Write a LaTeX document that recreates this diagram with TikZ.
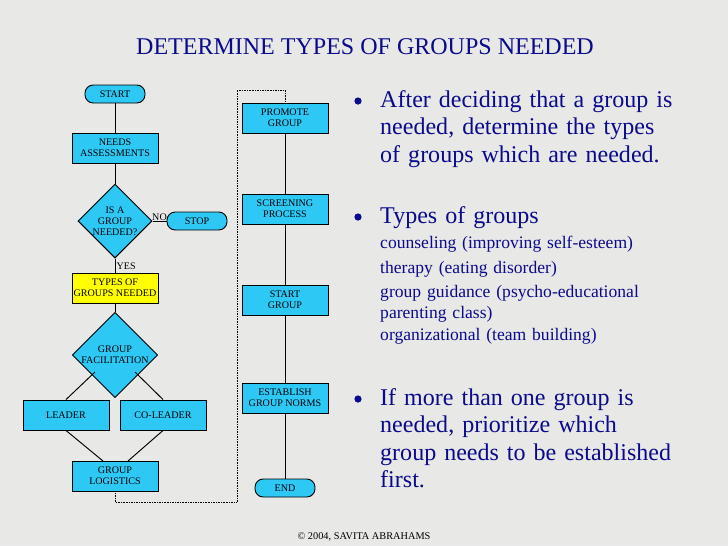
\documentclass[tikz,border=0pt]{standalone}
\usepackage{fontspec}
\setmainfont{Liberation Serif}
\usetikzlibrary{shapes.geometric}
\definecolor{boxblue}{RGB}{46,200,245}
\definecolor{boxyellow}{RGB}{255,255,0}
\definecolor{navy}{RGB}{10,10,140}
\definecolor{bg}{RGB}{232,232,230}
\tikzset{
    procbox/.style={draw, thick, fill=boxblue, minimum width=2.58cm, minimum height=0.9cm, align=center, font=\fontsize{8.6}{9.6}\selectfont, inner sep=1pt},
    termbox/.style={draw, thick, fill=boxblue, rounded corners=7pt, minimum width=1.8cm, minimum height=0.54cm, font=\fontsize{8.6}{9.6}\selectfont, inner sep=1pt},
    decbox/.style={draw, thick, fill=boxblue, diamond, align=center, font=\fontsize{8.6}{9.6}\selectfont, inner sep=0pt},
    flow/.style={draw, thick},
    bul/.style={anchor=north west, text=navy, align=left, text width=8.9cm, font=\fontsize{20.5}{23.5}\selectfont\raggedright, inner sep=0pt},
    sub/.style={anchor=north west, text=navy, align=left, text width=8.9cm, font=\fontsize{15}{18}\selectfont\raggedright, inner sep=0pt}
}
\begin{document}
\begin{tikzpicture}[x=0.03cm, y=-0.03cm]
    \fill[bg] (0,0) rectangle (728,546);

    \node[text=navy, font=\fontsize{20.5}{24}\selectfont] (title) at (365,47) {DETERMINE TYPES OF GROUPS NEEDED};

    % left column
    \node[termbox] (start) at (115,94) {START};
    \node[procbox] (needs) at (115,148) {NEEDS\\ASSESSMENTS};
    \node[decbox, minimum width=2.16cm, minimum height=1.98cm] (isgroup) at (115,221) {IS A\\GROUP\\NEEDED?};
    \node[termbox] (stop) at (197,221) {STOP};
    \node[procbox, fill=boxyellow] (types) at (115,288) {TYPES OF\\GROUPS NEEDED};
    \node[decbox, minimum width=2.52cm, minimum height=1.95cm] (facil) at (115,355) {GROUP\\FACILITATION};
    \node[procbox] (leader) at (66,415) {LEADER};
    \node[procbox] (coleader) at (163,415) {CO-LEADER};
    \node[procbox] (logist) at (115,476) {GROUP\\LOGISTICS};

    % right column
    \node[procbox] (promote) at (285,118) {PROMOTE\\GROUP};
    \node[procbox] (screen) at (285,209) {SCREENING\\PROCESS};
    \node[procbox] (startgrp) at (285,300) {START\\GROUP};
    \node[procbox] (norms) at (285,398) {ESTABLISH\\GROUP NORMS};
    \node[termbox] (end) at (285,488) {END};

    \draw[flow] (start) -- (needs);
    \draw[flow] (needs) -- (isgroup);
    \draw[flow] (isgroup) -- node[above, font=\fontsize{8.6}{9}\selectfont, inner sep=0pt] {NO} (stop);
    \draw[flow] (isgroup) -- node[pos=0.55, right, font=\fontsize{8.6}{9}\selectfont, inner sep=1pt] {YES} (types);
    \draw[flow] (types) -- (facil);
    \draw[flow] (95,372) -- (leader.north);
    \draw[flow] (135,372) -- (coleader.north);
    \draw[flow] (leader.south) -- (103,461);
    \draw[flow] (coleader.south) -- (128,461);
    \draw[flow] (promote) -- (screen);
    \draw[flow] (screen) -- (startgrp);
    \draw[flow] (startgrp) -- (norms);
    \draw[flow] (norms) -- (end);
    \draw[densely dotted] (logist.south) -- (115,502) -- (237,502) -- (237,90) -- (285,90) -- (promote.north);

    % text column
    \node[bul] (b1) at (380,90) {After deciding that a group is needed, determine the types of groups which are needed.};
    \node[bul] (b2) at (380,206) {Types of groups};
    \node[sub] (s1) at (380,236) {counseling (improving self-esteem)};
    \node[sub] (s2) at (380,261) {therapy (eating disorder)};
    \node[sub] (s3) at (380,285) {group guidance (psycho-educational\\parenting class)};
    \node[sub] (s4) at (380,328) {organizational (team building)};
    \node[bul] (b3) at (380,388) {If more than one group is needed, prioritize which group needs to be established first.};
    \foreach \y in {101,217,399} \fill[navy] (358,\y) circle (3.6);

    \node[font=\fontsize{8.8}{9}\selectfont] (copy) at (364,537) {© 2004, SAVITA ABRAHAMS};
\end{tikzpicture}
\end{document}
